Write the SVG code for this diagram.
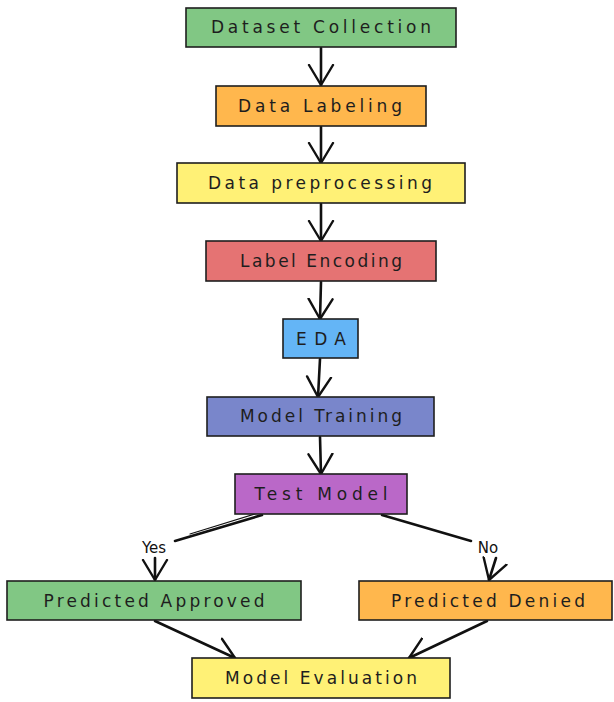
<svg xmlns="http://www.w3.org/2000/svg" width="614" height="702" viewBox="0 0 614 702">
  <style>
    .box { stroke: #1e1e1e; stroke-width: 1.6; }
    .lbl { font-family: "DejaVu Sans", "Liberation Sans", sans-serif; font-size: 17px; fill: #1e1e1e; text-anchor: middle; }
    .edge { fill: none; stroke: #111; stroke-width: 2.6; stroke-linecap: round; }
    .thin { fill: none; stroke: #111; stroke-width: 1.2; stroke-linecap: round; }
    .elbl { font-family: "DejaVu Sans", "Liberation Sans", sans-serif; font-size: 15px; fill: #111; text-anchor: middle; }
  </style>
  <defs>
    <marker id="arr" markerUnits="userSpaceOnUse" markerWidth="26" markerHeight="30" refX="21" refY="13" orient="auto" viewBox="0 0 26 26">
      <path d="M1,1 L21,13 L1,25" fill="none" stroke="#111" stroke-width="2.4" stroke-linecap="round" stroke-linejoin="round"/>
    </marker>
  </defs>
  <rect width="614" height="702" fill="#ffffff"/>

  <g id="connectors">
    <line class="edge" x1="321" y1="48" x2="321" y2="85" marker-end="url(#arr)"/>
    <line class="edge" x1="321" y1="127" x2="321" y2="163" marker-end="url(#arr)"/>
    <line class="edge" x1="321" y1="204" x2="321" y2="241" marker-end="url(#arr)"/>
    <line class="edge" x1="321" y1="282" x2="320" y2="319" marker-end="url(#arr)"/>
    <line class="edge" x1="320" y1="359" x2="318" y2="397" marker-end="url(#arr)"/>
    <line class="edge" x1="320" y1="437" x2="321" y2="474" marker-end="url(#arr)"/>
    <!-- Yes branch -->
    <line class="edge" x1="262" y1="515" x2="175" y2="541"/>
    <line class="thin" x1="258" y1="513" x2="190" y2="534"/>
    <text class="elbl" x="154" y="553">Yes</text>
    <line class="edge" x1="155" y1="558" x2="155" y2="580" marker-end="url(#arr)"/>
    <!-- No branch -->
    <line class="edge" x1="382" y1="515" x2="471" y2="541"/>
    <text class="elbl" x="488" y="553">No</text>
    <line class="edge" x1="496" y1="558" x2="489" y2="580" marker-end="url(#arr)"/>
    <!-- to evaluation -->
    <line class="edge" x1="155" y1="621" x2="235" y2="658" marker-end="url(#arr)"/>
    <line class="edge" x1="487" y1="621" x2="409" y2="658" marker-end="url(#arr)"/>
  </g>

  <g id="n1">
    <rect class="box" x="186" y="8" width="270" height="39" fill="#81c784"/>
    <text class="lbl" x="321" y="33" textLength="220" lengthAdjust="spacing">Dataset Collection</text>
  </g>
  <g id="n2">
    <rect class="box" x="216" y="86" width="210" height="40" fill="#ffb74d"/>
    <text class="lbl" x="320" y="112" textLength="164" lengthAdjust="spacing">Data Labeling</text>
  </g>
  <g id="n3">
    <rect class="box" x="177" y="163" width="288" height="40" fill="#fff176"/>
    <text class="lbl" x="320" y="189" textLength="224" lengthAdjust="spacing">Data preprocessing</text>
  </g>
  <g id="n4">
    <rect class="box" x="206" y="241" width="230" height="40" fill="#e57373"/>
    <text class="lbl" x="321" y="267" textLength="162" lengthAdjust="spacing">Label Encoding</text>
  </g>
  <g id="n5">
    <rect class="box" x="283" y="319" width="75" height="39" fill="#64b5f6"/>
    <text class="lbl" x="321" y="345" textLength="50" lengthAdjust="spacing">EDA</text>
  </g>
  <g id="n6">
    <rect class="box" x="207" y="397" width="227" height="39" fill="#7986cb"/>
    <text class="lbl" x="321" y="422" textLength="162" lengthAdjust="spacing">Model Training</text>
  </g>
  <g id="n7">
    <rect class="box" x="235" y="474" width="172" height="40" fill="#ba68c8"/>
    <text class="lbl" x="321" y="500" textLength="133" lengthAdjust="spacing">Test Model</text>
  </g>
  <g id="n8">
    <rect class="box" x="7" y="581" width="294" height="39" fill="#81c784"/>
    <text class="lbl" x="154" y="607" textLength="221" lengthAdjust="spacing">Predicted Approved</text>
  </g>
  <g id="n9">
    <rect class="box" x="359" y="581" width="253" height="39" fill="#ffb74d"/>
    <text class="lbl" x="488" y="607" textLength="194" lengthAdjust="spacing">Predicted Denied</text>
  </g>
  <g id="n10">
    <rect class="box" x="192" y="658" width="258" height="40" fill="#fff176"/>
    <text class="lbl" x="321" y="684" textLength="192" lengthAdjust="spacing">Model Evaluation</text>
  </g>
</svg>
